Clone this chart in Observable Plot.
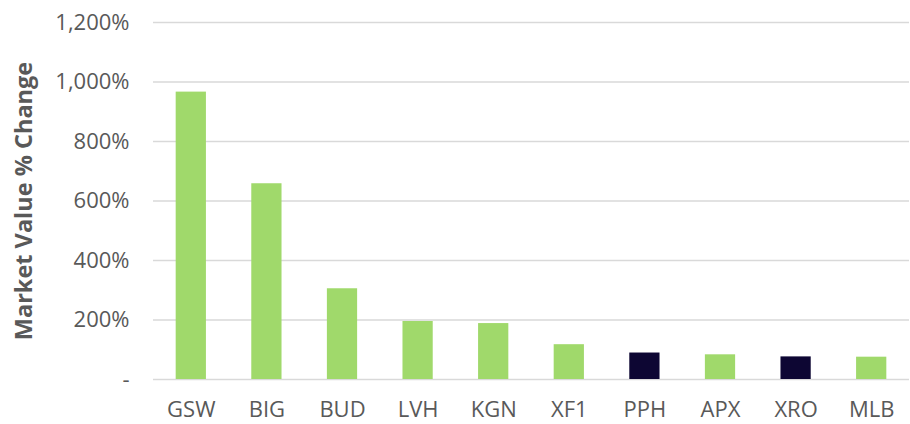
<!DOCTYPE html>
<html>
<head>
<meta charset="utf-8">
<script src="https://cdn.jsdelivr.net/npm/d3@7"></script>
<script src="https://cdn.jsdelivr.net/npm/@observablehq/plot@0.6"></script>
<style>
  html, body { margin: 0; padding: 0; background: #fff; }
  #chart svg { display: block; }
</style>
</head>
<body>
<div id="chart"></div>
<script>
const tickers = ["GSW", "BIG", "BUD", "LVH", "KGN", "XF1", "PPH", "APX", "XRO", "MLB"];
const changes = [966, 658, 305, 195, 188, 117, 89, 83, 76, 75];
const groups = ["other", "other", "other", "other", "other", "other", "highlight", "other", "highlight", "other"];
const yTicks = [0, 200, 400, 600, 800, 1000, 1200];

const data = tickers.map((t, i) => ({ticker: t, change: changes[i], group: groups[i]}));
const fmt = d => d === 0 ? "-" : d3.format(",")(d) + "%";

const chart = Plot.plot({
  width: 910,
  height: 424,
  marginLeft: 153,
  marginRight: 1,
  marginTop: 22,
  marginBottom: 45,
  style: {fontFamily: "'Open Sans', Lato, sans-serif", fontSize: "22px", color: "#595959", background: "#fff"},
  x: {domain: tickers, paddingInner: 0.6, paddingOuter: 0.3, round: false, label: null},
  y: {domain: [0, 1200], label: null},
  color: {domain: ["other", "highlight"], range: ["#A0D96B", "#0D0633"]},
  marks: [
    Plot.ruleY(yTicks, {stroke: "#d9d9d9", strokeWidth: 1.5, strokeOpacity: 1}),
    Plot.barY(data, {x: "ticker", y: "change", fill: "group"}),
    Plot.axisY({ticks: yTicks, tickFormat: fmt, tickSize: 0, tickPadding: 24, fontSize: 22, label: "Market Value % Change", labelAnchor: "center", labelArrow: "none", labelOffset: 138}),
    Plot.axisX({tickSize: 0, tickPadding: 22, fontSize: 22})
  ]
});
document.getElementById("chart").append(chart);
// bold the y-axis label
chart.querySelectorAll("text").forEach(t => {
  if (t.textContent === "Market Value % Change") { t.setAttribute("font-weight", "bold"); t.setAttribute("font-size", "23.5"); }
});
</script>
</body>
</html>
